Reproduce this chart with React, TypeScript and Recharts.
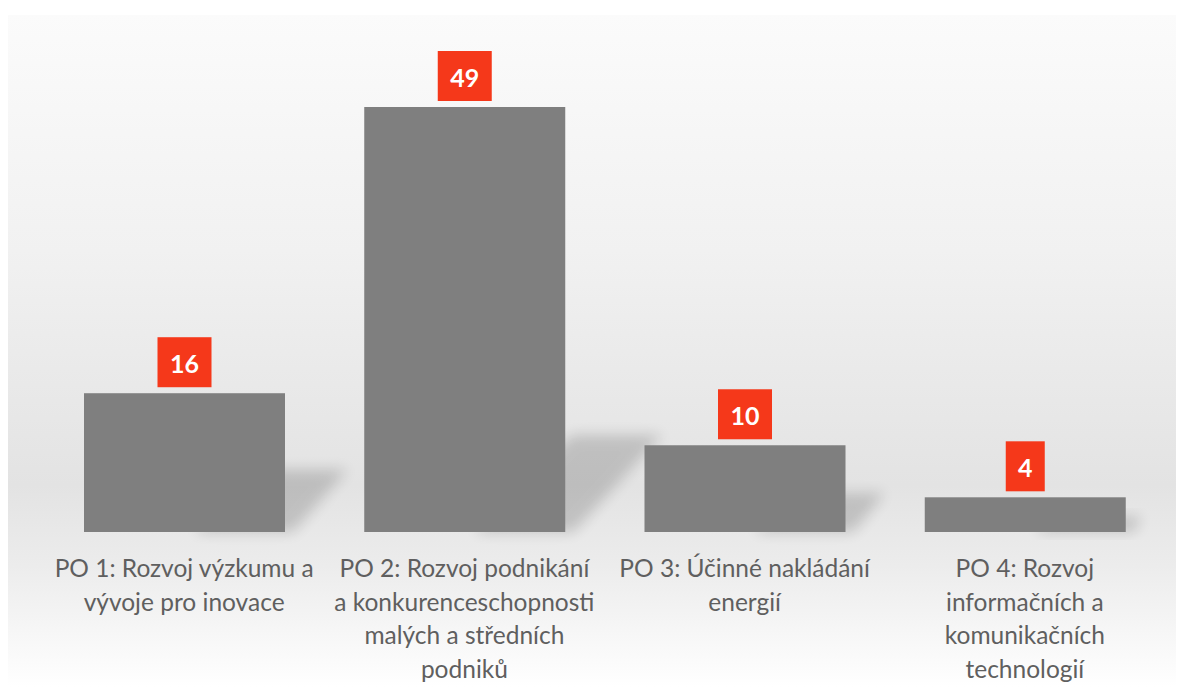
import { BarChart, Bar, XAxis, YAxis, LabelList } from 'recharts';

const categories = [
  'PO 1: Rozvoj výzkumu a vývoje pro inovace',
  'PO 2: Rozvoj podnikání a konkurenceschopnosti malých a středních podniků',
  'PO 3: Účinné nakládání energií',
  'PO 4: Rozvoj informačních a komunikačních technologií',
];

// how each category label wraps under its bar
const categoryLines = [
  ['PO 1: Rozvoj výzkumu a', 'vývoje pro inovace'],
  ['PO 2: Rozvoj podnikání', 'a konkurenceschopnosti', 'malých a středních', 'podniků'],
  ['PO 3: Účinné nakládání', 'energií'],
  ['PO 4: Rozvoj', 'informačních a', 'komunikačních', 'technologií'],
];

const values = [16, 49, 10, 4];

const data = categories.map((name, i) => ({ name, value: values[i], lines: categoryLines[i] }));

const W = 1176;
const H = 672;
const FONT = 'Lato, "Open Sans", sans-serif';

function CategoryTick(props: any) {
  const { x, y, index } = props;
  const lines: string[] = categoryLines[index] || [];
  return (
    <g>
      {lines.map((line, i) => (
        <text
          key={i}
          x={x}
          y={y + 45 + i * 33.7}
          textAnchor="middle"
          fill="#5f5f5f"
          fontSize={24.5}
          fontFamily={FONT}
        >
          {line}
        </text>
      ))}
    </g>
  );
}

function ShadowBar(props: any) {
  const { x, y, width, height } = props;
  const base = y + height;
  const s = Math.min(height * 0.45, 97);
  const d = s * 1.0;
  const pts = [
    [x + width * 0.55, base],
    [x + width * 0.55 + d, base - s],
    [x + width + d, base - s],
    [x + width + 8, base],
  ]
    .map((p) => p.join(','))
    .join(' ');
  return (
    <g>
      <polygon points={pts} fill="#000" opacity={0.16} filter="url(#barShadow)" />
      <rect x={x} y={y} width={width} height={height} fill="#7f7f7f" />
    </g>
  );
}

function ValueBox(props: any) {
  const { x, y, width, value } = props;
  const txt = String(value);
  const bw = txt.length * 15 + 24;
  const bh = 50;
  const cx = x + width / 2;
  const top = y - 6 - bh;
  return (
    <g>
      <rect x={cx - bw / 2} y={top} width={bw} height={bh} fill="#f5381a" />
      <text
        x={cx}
        y={top + bh / 2 + 1}
        textAnchor="middle"
        dominantBaseline="central"
        fill="#ffffff"
        fontSize={25}
        fontWeight="bold"
        fontFamily={FONT}
      >
        {txt}
      </text>
    </g>
  );
}

export default function App() {
  return (
    <div
      style={{
        marginTop: 7,
        width: W,
        height: H,
        background: 'linear-gradient(to bottom, #fbfbfb 0%, #f1f1f1 35%, #e3e3e3 70%, #ececec 82%, #ffffff 100%)',
      }}
    >
      <BarChart width={W} height={H} data={data} margin={{ top: 92, right: 19, bottom: 0, left: 36 }}>
        <defs>
          <filter id="barShadow" x="-50%" y="-50%" width="200%" height="200%">
            <feGaussianBlur stdDeviation="7" />
          </filter>
        </defs>
        <XAxis
          dataKey="name"
          axisLine={false}
          tickLine={false}
          tickSize={0}
          tickMargin={0}
          interval={0}
          height={155}
          tick={<CategoryTick />}
        />
        <YAxis hide domain={[0, 49]} />
        <Bar dataKey="value" barSize={201} shape={<ShadowBar />} isAnimationActive={false}>
          <LabelList dataKey="value" content={<ValueBox />} />
        </Bar>
      </BarChart>
    </div>
  );
}
